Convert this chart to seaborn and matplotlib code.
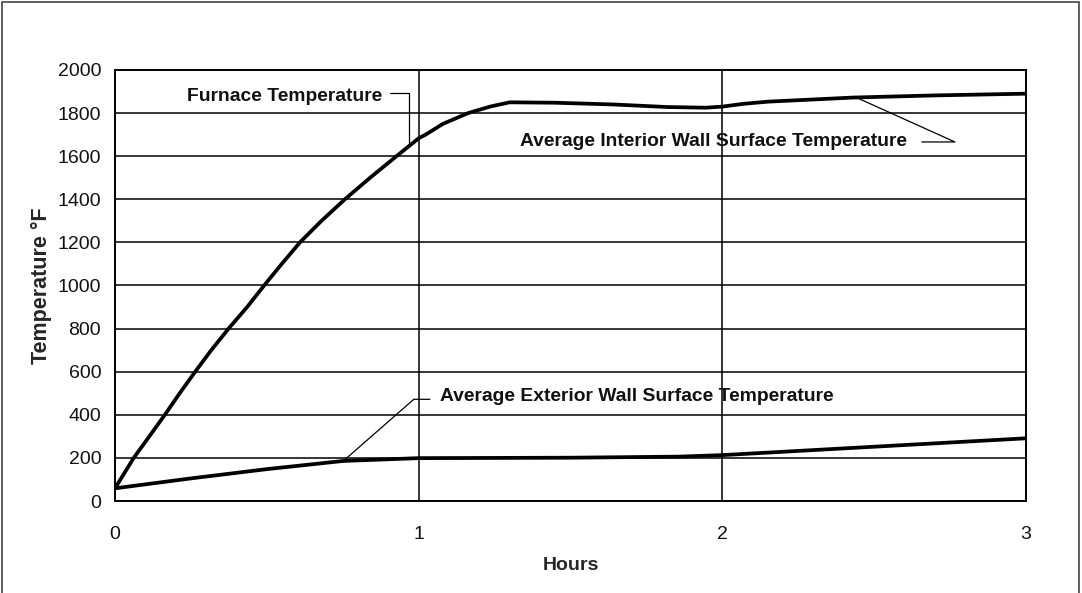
import matplotlib
matplotlib.use("Agg")
import matplotlib.pyplot as plt
import matplotlib.patches as mpatches
import pandas as pd
import seaborn as sns

# Values (hours, deg F)
FURNACE_HOURS = [0.0, 0.0615, 0.113, 0.164, 0.213, 0.264, 0.317, 0.374, 0.435,
                 0.491, 0.549, 0.609, 0.680, 0.757, 0.840, 0.927, 1.0, 1.023,
                 1.08, 1.163, 1.235, 1.30, 1.45, 1.64, 1.82, 1.946, 2.0, 2.07,
                 2.15, 2.43, 2.7, 3.0]
FURNACE_TEMP = [59, 200, 300, 400, 500, 600, 700, 800, 900,
                1000, 1100, 1200, 1300, 1400, 1500, 1600, 1683, 1700,
                1750, 1800, 1830, 1850, 1848, 1840, 1828, 1825, 1830, 1843,
                1853, 1872, 1882, 1890]

EXTERIOR_HOURS = [0.0, 0.25, 0.5, 0.752, 1.0, 1.5, 1.858, 2.0, 2.5, 3.0]
EXTERIOR_TEMP = [59, 105, 148, 186, 199, 201, 206, 213, 252, 291]

Y_TICKS = list(range(0, 2001, 200))
X_TICKS = [0, 1, 2, 3]

FONTS = ["Liberation Sans", "DejaVu Sans"]


def build_frame():
    fur = pd.DataFrame({"hours": FURNACE_HOURS, "temp": FURNACE_TEMP,
                        "series": "Furnace Temperature"})
    ext = pd.DataFrame({"hours": EXTERIOR_HOURS, "temp": EXTERIOR_TEMP,
                        "series": "Average Exterior Wall Surface Temperature"})
    return pd.concat([fur, ext], ignore_index=True)


def main():
    sns.set_theme(style="white")
    plt.rcParams["font.family"] = FONTS

    fig = plt.figure(figsize=(10.82, 5.93), dpi=100)
    ax = fig.add_axes([0.1063, 0.1551, 0.8419, 0.7269])

    df = build_frame()
    sns.lineplot(data=df, x="hours", y="temp", units="series", estimator=None,
                 sort=False, color="black", lw=2.7, legend=False, ax=ax)
    for line in ax.lines:
        line.set_solid_joinstyle("round")

    ax.set_xlim(0, 3)
    ax.set_ylim(0, 2000)
    ax.set_xticks(X_TICKS)
    ax.set_yticks(Y_TICKS)
    ax.tick_params(length=0, labelsize=14, colors="#111111")
    ax.tick_params(axis="y", pad=10)
    ax.tick_params(axis="x", pad=18)
    ax.grid(True, color="black", lw=1.1)
    ax.set_axisbelow(True)
    for s in ax.spines.values():
        s.set_color("black")
        s.set_linewidth(1.4)

    ax.set_xlabel("Hours", fontsize=14, fontweight="bold", labelpad=10)
    ax.set_ylabel("Temperature °F", fontsize=15.5, fontweight="bold", labelpad=4)

    # annotations with leader lines
    bold = dict(fontsize=13.9, fontweight="bold", color="#111111", va="center")
    ax.text(0.879, 1875, "Furnace Temperature", ha="right", **bold)
    ax.plot([0.905, 0.968, 0.968], [1893, 1893, 1655], color="black", lw=0.9)

    ax.text(1.334, 1666, "Average Interior Wall Surface Temperature", ha="left", **bold)
    ax.plot([2.657, 2.766, 2.437], [1666, 1666, 1875], color="black", lw=0.9)

    ax.text(1.070, 487, "Average Exterior Wall Surface Temperature", ha="left", **bold)
    ax.plot([1.037, 0.984, 0.752], [472, 472, 186], color="black", lw=0.9)

    # outer frame around the whole picture (bottom edge is cut off)
    frame = mpatches.Rectangle((0.002, -0.02), 0.995, 1.017, transform=fig.transFigure,
                               fill=False, edgecolor="#444444", lw=1.2, clip_on=False)
    fig.patches.append(frame)

    fig.savefig("out.png", dpi=100)


if __name__ == "__main__":
    main()
